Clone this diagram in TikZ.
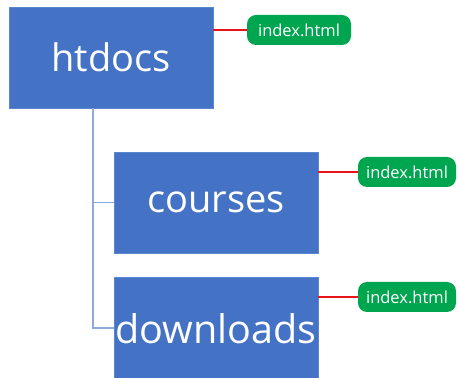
\documentclass[tikz,border=0pt]{standalone}
\usepackage{fontspec}
\setmainfont{Open Sans}
\definecolor{boxblue}{HTML}{4472C4}
\definecolor{boxedge}{HTML}{5B86D0}
\definecolor{treeline}{HTML}{8EA9DB}
\definecolor{pillgreen}{HTML}{00A550}
\definecolor{linkred}{HTML}{E8141C}
\begin{document}
\begin{tikzpicture}[x=1pt,y=1pt,
  folder/.style={draw=boxedge, line width=0.8pt, fill=boxblue, text=white,
    minimum width=204pt, minimum height=101pt, inner sep=0pt,
    font=\fontsize{38}{40}\selectfont},
  pill/.style={fill=pillgreen, text=white, rounded corners=9pt,
    minimum height=30pt, inner sep=0pt, font=\fontsize{16.5}{18}\selectfont},
  tree/.style={draw=treeline, line width=1.2pt},
  link/.style={draw=linkred, line width=1.2pt}]
\useasboundingbox (0,0) rectangle (459,378);
\begin{scope}
\clip (0,0) rectangle (459,378);
\node[folder] (htdocs) at (111,320.5) {htdocs};
\node[folder] (courses) at (216,175.5) {courses};
\node[folder, minimum height=104pt, font=\fontsize{39.5}{42}\selectfont] (downloads) at (216,49) {downloads};
\end{scope}
\node[pill, minimum width=104pt] (pa) at (299,348) {index.html};
\node[pill, minimum width=98pt] (pb) at (407,206) {index.html};
\node[pill, minimum width=98pt] (pc) at (407,81) {index.html};
\coordinate (trunk) at (93,270);
\draw[tree] (trunk) |- (courses.west);
\draw[tree] (trunk) |- (downloads.west |- 0,50);
\draw[link] (pa.west -| htdocs.east) -- (pa.west);
\draw[link] (pb.west -| courses.east) -- (pb.west);
\draw[link] (pc.west -| downloads.east) -- (pc.west);
\end{tikzpicture}
\end{document}
